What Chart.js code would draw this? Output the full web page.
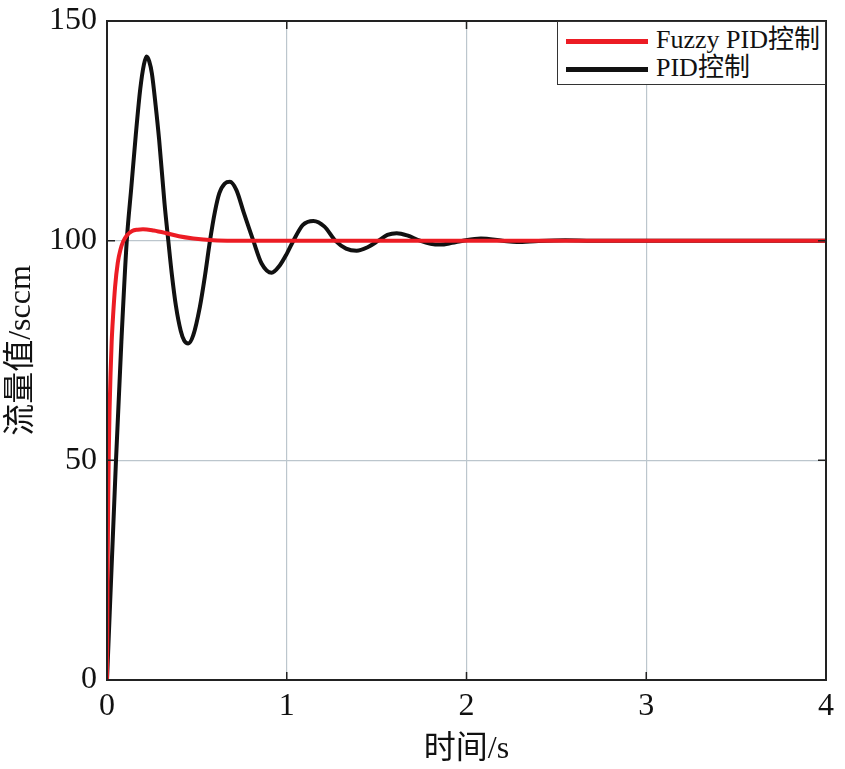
<!DOCTYPE html>
<html>
<head>
<meta charset="utf-8">
<script src="https://cdn.jsdelivr.net/npm/chart.js@4"></script>
<style>
  html, body { margin: 0; padding: 0; background: #fff; }
  #wrap { position: relative; width: 845px; height: 769px; }
  #legend {
    position: absolute; left: 557px; top: 21px; width: 267px; height: 62px;
    border: 1.5px solid #333; background: #fff;
    font-family: "Liberation Serif", "Noto Sans CJK SC", serif; font-size: 26px; color: #111;
  }
  .legend-item { position: absolute; left: 0; height: 30px; width: 100%; }
  .legend-line { position: absolute; left: 8px; width: 82px; height: 5px; top: 14px; }
  .legend-text { position: absolute; left: 98px; top: 0; line-height: 30px; white-space: nowrap; }
</style>
</head>
<body>
<div id="wrap">
  <canvas id="chart" width="845" height="769"></canvas>
  <div id="legend">
    <div class="legend-item" style="top: 3px;"><div class="legend-line" style="background: #ec1c24;"></div><div class="legend-text">Fuzzy PID控制</div></div>
    <div class="legend-item" style="top: 31px;"><div class="legend-line" style="background: #111;"></div><div class="legend-text">PID控制</div></div>
  </div>
</div>
<script>
const FONT = '"Liberation Serif", "Noto Sans CJK SC", serif';

// time (s) and flow (sccm)
const fuzzyTime = [0, 0.002, 0.004, 0.007, 0.010, 0.014, 0.020, 0.026, 0.034, 0.045, 0.060, 0.075, 0.090, 0.110, 0.140, 0.170, 0.200, 0.260, 0.330, 0.400, 0.480, 0.590, 0.700, 1.0, 2.0, 3.0, 4.0];
const fuzzyFlow = [0, 14, 28, 42, 52, 61, 70, 77, 83, 89.5, 95, 98, 99.8, 101.2, 102.2, 102.5, 102.6, 102.3, 101.7, 101.0, 100.5, 100.1, 100, 100, 100, 100, 100];

const pidTime = [0, 0.05, 0.08, 0.11, 0.135, 0.16, 0.185, 0.205, 0.22, 0.235, 0.25, 0.27, 0.29, 0.32, 0.341, 0.36, 0.384, 0.41, 0.43, 0.452, 0.48, 0.517, 0.545, 0.573, 0.60, 0.625, 0.655, 0.684, 0.72, 0.76, 0.814, 0.86, 0.916, 0.96, 1.0, 1.037, 1.09, 1.148, 1.21, 1.27, 1.33, 1.389, 1.45, 1.51, 1.56, 1.612, 1.67, 1.741, 1.80, 1.853, 1.92, 1.98, 2.08, 2.20, 2.28, 2.40, 2.55, 2.70, 4.0];
const pidFlow = [0, 50, 77, 100, 112, 124, 134.5, 140, 141.9, 140.8, 138, 131, 123, 108.5, 100, 92.6, 85, 79.5, 77.2, 76.6, 78.5, 85, 92, 100, 106.5, 110.8, 113, 113.4, 111.5, 106.5, 100, 94.8, 92.7, 94.3, 97, 100, 103.6, 104.5, 103.2, 100, 98.2, 97.7, 98.5, 100, 101.3, 101.7, 101.2, 100, 99.3, 99.1, 99.5, 100, 100.5, 100, 99.7, 99.95, 100.1, 100, 100];

const xTicks = [0, 1, 2, 3, 4];
const yTicks = [0, 50, 100, 150];

function toPoints(xs, ys) {
  return xs.map((x, i) => ({ x: x, y: ys[i] }));
}

// MATLAB style box with inward tick marks on all sides
const boxPlugin = {
  id: 'box',
  afterDatasetsDraw(chart) {
    const { ctx, chartArea: a, scales } = chart;
    ctx.save();
    ctx.strokeStyle = '#222';
    ctx.lineWidth = 1.5;
    const len = 8;
    ctx.beginPath();
    xTicks.forEach(v => {
      const px = scales.x.getPixelForValue(v);
      ctx.moveTo(px, a.bottom); ctx.lineTo(px, a.bottom - len);
      ctx.moveTo(px, a.top); ctx.lineTo(px, a.top + len);
    });
    yTicks.forEach(v => {
      const py = scales.y.getPixelForValue(v);
      ctx.moveTo(a.left, py); ctx.lineTo(a.left + len, py);
      ctx.moveTo(a.right, py); ctx.lineTo(a.right - len, py);
    });
    ctx.stroke();
    ctx.lineWidth = 2;
    ctx.strokeRect(a.left, a.top, a.right - a.left, a.bottom - a.top);
    ctx.restore();
  },
};

const ctx = document.getElementById('chart').getContext('2d');
new Chart(ctx, {
  type: 'line',
  data: {
    datasets: [
      {
        label: 'PID控制',
        data: toPoints(pidTime, pidFlow),
        borderColor: '#111',
        borderWidth: 4,
        pointRadius: 0,
        cubicInterpolationMode: 'monotone',
        fill: false,
        order: 2,
      },
      {
        label: 'Fuzzy PID控制',
        data: toPoints(fuzzyTime, fuzzyFlow),
        borderColor: '#ec1c24',
        borderWidth: 4,
        pointRadius: 0,
        cubicInterpolationMode: 'monotone',
        fill: false,
        order: 1,
      },
    ],
  },
  options: {
    responsive: false,
    animation: false,
    layout: { padding: { top: 21, right: 19, left: 0, bottom: 0 } },
    plugins: {
      legend: { display: false },
      tooltip: { enabled: false },
    },
    scales: {
      x: {
        type: 'linear',
        min: 0,
        max: 4,
        afterBuildTicks: s => { s.ticks = xTicks.map(v => ({ value: v })); },
        afterFit: s => { s.height = 89; s.paddingLeft = 0; s.paddingRight = 0; },
        grid: { color: '#bcc6cd', lineWidth: 1.2, drawTicks: false },
        border: { display: false },
        ticks: { color: '#111', font: { family: FONT, size: 32 }, padding: 7, maxRotation: 0 },
        title: {
          display: true,
          text: '时间/s',
          color: '#111',
          font: { family: FONT, size: 32 },
          padding: { top: -2, bottom: 0 },
        },
      },
      y: {
        min: 0,
        max: 150,
        afterBuildTicks: s => { s.ticks = yTicks.map(v => ({ value: v })); },
        afterFit: s => { s.width = 107; s.paddingTop = 0; s.paddingBottom = 0; },
        grid: { color: '#bcc6cd', lineWidth: 1.2, drawTicks: false },
        border: { display: false },
        ticks: { color: '#111', font: { family: FONT, size: 32 }, padding: 10 },
        title: {
          display: true,
          text: '流量值/sccm',
          color: '#111',
          font: { family: FONT, size: 32 },
          padding: { top: 2, bottom: 0 },
        },
      },
    },
  },
  plugins: [boxPlugin],
});
</script>
</body>
</html>
